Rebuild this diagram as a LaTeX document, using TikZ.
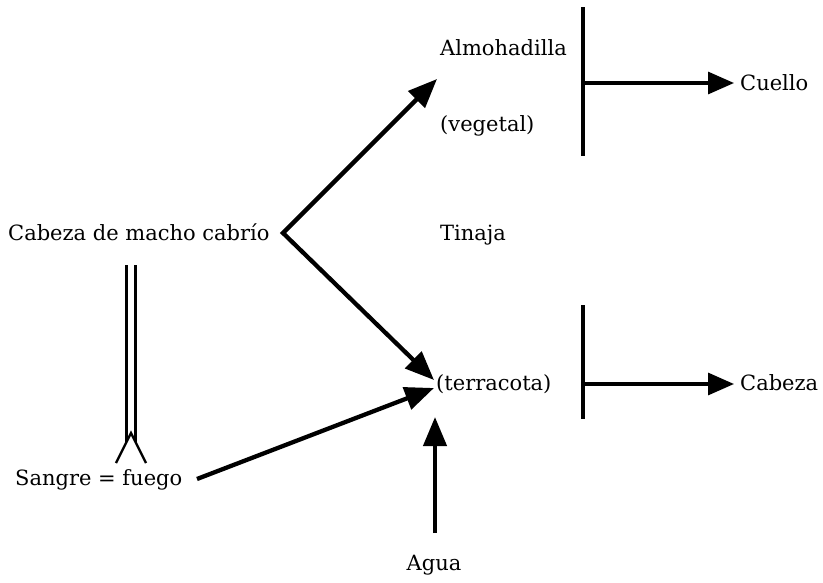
\documentclass[tikz,border=0pt]{standalone}
\usepackage{fontspec}
\setmainfont{DejaVu Serif}
\usetikzlibrary{arrows.meta}
\begin{document}
\begin{tikzpicture}[x=1pt,y=-1pt,
  lbl/.style={inner sep=0pt,anchor=base west,font=\fontsize{21pt}{24pt}\selectfont},
  bighead/.tip={Triangle[length=29pt,width=23pt]},
  bigarrow/.style={line width=4.3pt,-bighead},
  twoway/.style={line width=4.3pt,line join=miter,bighead-bighead},
  medarrow/.style={line width=3.2pt,-{Triangle[length=26pt,width=22pt]}},
  bar/.style={line width=3.2pt},
  dbl/.style={line width=2.3pt}]
\useasboundingbox (0,0) rectangle (823,582);

% labels
\node[lbl] (cabra) at (8,240) {Cabeza de macho cabrío};
\node[lbl] (almo) at (440,55) {Almohadilla};
\node[lbl] (veg) at (440,131) {(vegetal)};
\node[lbl] (tinaja) at (440,240) {Tinaja};
\node[lbl] (terra) at (436,390) {(terracota)};
\node[lbl] (cuello) at (740,90) {Cuello};
\node[lbl] (cabeza) at (740,390) {Cabeza};
\node[lbl] (sangre) at (15,485) {Sangre = fuego};
\node[lbl,anchor=base] (agua) at (434,570) {Agua};

% anchor points for the connectors
\coordinate (v) at (283,233);
\coordinate (tipup) at (437,79);
\coordinate (tipdown) at (434,380);
\coordinate (tipblood) at (434,388);
\coordinate (tipwater) at (435,417);
\coordinate (sstart) at (197,479);
\coordinate (wstart) at (435,533);

% vertical bars
\coordinate (b1t) at (583,7);
\coordinate (b1b) at (583,156);
\coordinate (b2t) at (583,305);
\coordinate (b2b) at (583,419);
\draw[bar] (b1t) -- (b1b);
\draw[bar] (b2t) -- (b2b);

% horizontal arrows to the right
\coordinate (h1) at (583,83);
\coordinate (h1e) at (734,83);
\coordinate (h2) at (583,384);
\coordinate (h2e) at (734,384);
\draw[medarrow] (h1) -- (h1e);
\draw[medarrow] (h2) -- (h2e);

% the chevron leaving the goat's head, and the arrows into the jar
\draw[twoway] (tipup) -- (v) -- (tipdown);
\draw[bigarrow] (sstart) -- (tipblood);
\draw[bigarrow] (wstart) -- (tipwater);

% double arrow with open head
\coordinate (dtop) at (131,265);
\coordinate (dtip) at (131,433);
\draw[dbl] ([xshift=-4.5pt]dtop) -- ([xshift=-4.5pt,yshift=-9pt]dtip);
\draw[dbl] ([xshift=4.5pt]dtop) -- ([xshift=4.5pt,yshift=-9pt]dtip);
\draw[line width=2.4pt,line join=miter] ([xshift=-15pt,yshift=-30pt]dtip) -- (dtip) -- ([xshift=15pt,yshift=-30pt]dtip);
\end{tikzpicture}
\end{document}
